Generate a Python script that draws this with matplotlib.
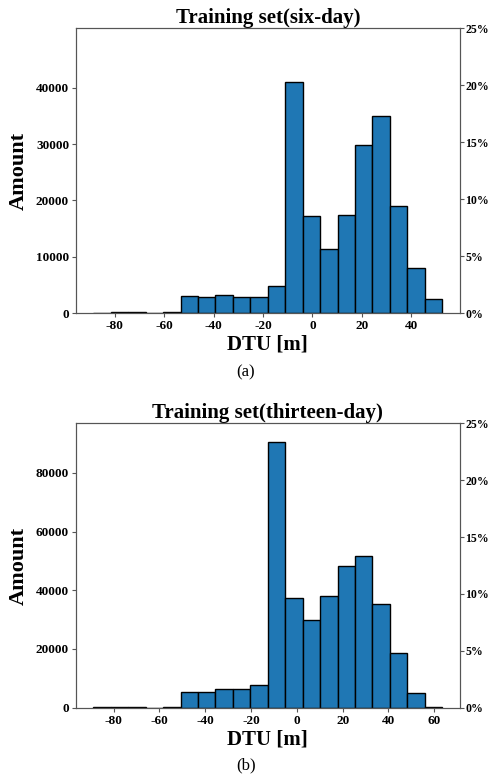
import numpy as np
import matplotlib.pyplot as plt

plt.rcParams['font.family'] = ['Liberation Serif', 'DejaVu Serif']
plt.rcParams['font.weight'] = 'bold'
plt.rcParams['axes.unicode_minus'] = False

# six-day training set: 20 bins
six_range = (-88.6, 52.5)
six_counts = [100, 150, 250, 100, 250, 3000, 2900, 3200, 2800, 2900,
              4800, 41000, 17300, 11400, 17500, 29800, 35000, 19000, 8100, 2600]
six_yticks = [0, 10000, 20000, 30000, 40000]

# thirteen-day training set: 20 bins
thir_range = (-88.8, 63.4)
thir_counts = [100, 300, 300, 50, 250, 5500, 5400, 6300, 6400, 7600,
               90500, 37400, 30000, 38200, 48400, 51600, 35300, 18700, 5000, 100]
thir_yticks = [0, 20000, 40000, 60000, 80000]

pct_ticks = [0, 5, 10, 15, 20, 25]

panels = [
    ("Training set(six-day)", six_range, six_counts, six_yticks, "(a)"),
    ("Training set(thirteen-day)", thir_range, thir_counts, thir_yticks, "(b)"),
]

fig = plt.figure(figsize=(4.92, 7.82), dpi=100)
rects = [[0.1545, 0.5994, 0.7795, 0.3644], [0.1545, 0.0950, 0.7795, 0.3637]]
sub_y = [0.524, 0.021]
spine_col = '#555555'

for (title, rng, counts, yticks, tag), rect, sy in zip(panels, rects, sub_y):
    counts = np.array(counts, dtype=float)
    edges = np.linspace(rng[0], rng[1], len(counts) + 1)
    total = counts.sum()

    ax = fig.add_axes(rect)
    ax.hist(edges[:-1], bins=edges, weights=counts, color='#1f77b4',
            edgecolor='black', linewidth=1.0)
    ax.set_ylim(0, 0.25 * total)
    ax.set_yticks(yticks)
    ax.set_title(title, fontsize=15, fontweight='bold', pad=4)
    ax.set_ylabel('Amount', fontsize=16, fontweight='bold', labelpad=5)
    ax.set_xlabel('DTU [m]', fontsize=15, fontweight='bold', labelpad=2)
    ax.tick_params(labelsize=9.5, length=3, color=spine_col, pad=2)

    ax2 = ax.twinx()
    ax2.set_ylim(0, 25)
    ax2.set_yticks(pct_ticks)
    ax2.set_yticklabels(['%d%%' % p for p in pct_ticks])
    ax2.tick_params(labelsize=8.5, length=3, color=spine_col, pad=1)

    for a in (ax, ax2):
        for s in a.spines.values():
            s.set_color(spine_col)

    fig.text(0.5, sy, tag, ha='center', va='center', fontsize=12,
             fontweight='normal')

fig.savefig('out.png', dpi=100)
